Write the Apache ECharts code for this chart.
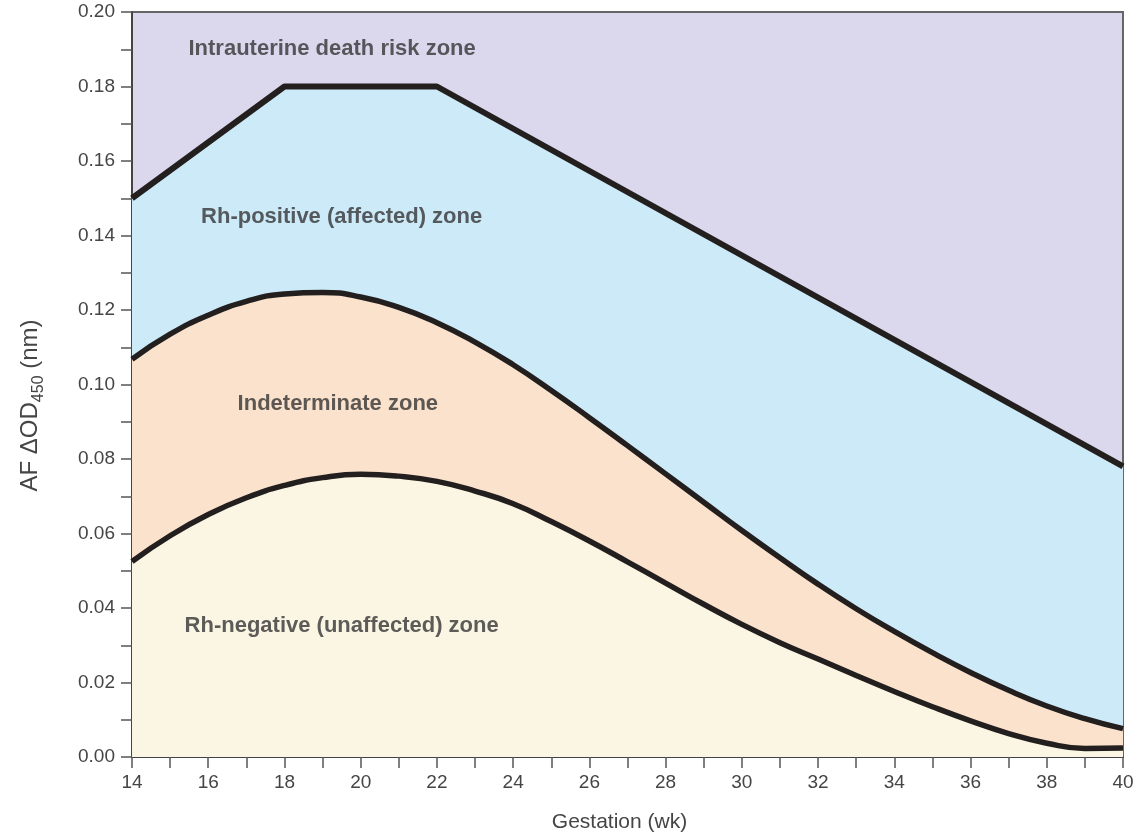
<!DOCTYPE html>
<html>
<head>
<meta charset="utf-8">
<script src="https://cdn.jsdelivr.net/npm/echarts@6/dist/echarts.min.js"></script>
<style>
html,body{margin:0;padding:0;background:#fff;}
#chart{width:1138px;height:838px;}
</style>
</head>
<body>
<div id="chart"></div>
<script>
// Gestation weeks
const weeks = [14,15,16,17,18,19,20,21,22,23,24,25,26,27,28,29,30,31,32,33,34,35,36,37,38,39,40];
// Upper boundary of Rh-positive (affected) zone: straight segments
const deathRiskBoundary = [[14,0.150],[18,0.180],[22,0.180],[40,0.078]];
// Boundary between affected and indeterminate zones
const upperCurve = [0.1068,0.1135,0.1186,0.1223,0.1243,0.1247,0.1235,0.1207,0.1166,0.1114,0.1053,0.0984,0.0911,0.0836,0.0760,0.0684,0.0608,0.0535,0.0464,0.0398,0.0337,0.0280,0.0227,0.0179,0.0137,0.0103,0.0076];
// Boundary between indeterminate and unaffected zones
const lowerCurve = [0.0525,0.0594,0.0651,0.0696,0.0729,0.0750,0.0759,0.0754,0.0740,0.0714,0.0680,0.0632,0.0580,0.0524,0.0467,0.0410,0.0356,0.0307,0.0263,0.0219,0.0176,0.0135,0.0097,0.0063,0.0037,0.0023,0.0024];
// Zone labels (text, anchor week, anchor value)
const zoneNames = ['Intrauterine death risk zone','Rh-positive (affected) zone','Indeterminate zone','Rh-negative (unaffected) zone'];
const zoneWeek = [19.25, 19.5, 19.4, 19.5];
const zoneValue = [0.190, 0.145, 0.0948, 0.0352];

const xTicks = {min:14, max:40, step:1, labelEvery:2};
const yTicks = {min:0, max:0.2, step:0.01, labelEvery:0.02};

const lineColor = '#231f1e';
const textColor = '#454545';
const font = "'Liberation Sans', Arial, Helvetica, sans-serif";

const chart = echarts.init(document.getElementById('chart'), null, {renderer:'canvas'});
const zip = arr => weeks.map((w,i)=>[w,arr[i]]);

chart.setOption({
  animation:false,
  backgroundColor:'#ffffff',
  grid:{left:132, right:15, top:12, bottom:77, show:true, backgroundColor:'#dbd8ee', borderColor:'#666', borderWidth:2},
  xAxis:{
    type:'value', min:xTicks.min, max:xTicks.max, interval:xTicks.step,
    name:'Gestation (wk)', nameLocation:'middle', nameGap:55,
    nameTextStyle:{fontSize:21, color:textColor, fontFamily:font, padding:[0,16,0,0]},
    axisLine:{show:true, lineStyle:{color:'#444', width:2}},
    axisTick:{show:true, length:11, lineStyle:{color:'#555', width:1.5}},
    axisLabel:{fontSize:19, color:textColor, fontFamily:font, margin:16,
      formatter:v=> (Math.round(v)%xTicks.labelEvery===0)? String(v):''},
    splitLine:{show:false}
  },
  yAxis:{
    type:'value', min:yTicks.min, max:yTicks.max, interval:yTicks.step,
    name:'AF ΔOD{s|450} (nm)', nameLocation:'middle', nameGap:90,
    nameTextStyle:{fontSize:24, color:textColor, fontFamily:font, padding:[0,42,0,0],
      rich:{s:{fontSize:16, color:textColor, fontFamily:font, verticalAlign:'bottom', padding:[0,0,-5,0]}}},
    axisLine:{show:true, lineStyle:{color:'#444', width:2}},
    axisTick:{show:true, length:11, lineStyle:{color:'#555', width:1.5}},
    axisLabel:{fontSize:19, color:textColor, fontFamily:font, margin:17,
      formatter:v=> (Math.round(v*100)%Math.round(yTicks.labelEvery*100)===0)? v.toFixed(2):''},
    splitLine:{show:false}
  },
  series:[
    {type:'line', data:deathRiskBoundary, symbol:'none', z:2,
      lineStyle:{color:lineColor, width:6, join:'round'}, areaStyle:{color:'#cdeaf8', opacity:1, origin:'start'}},
    {type:'line', data:zip(upperCurve), symbol:'none', smooth:0.5, z:3,
      lineStyle:{color:lineColor, width:5.5}, areaStyle:{color:'#fae2cd', opacity:1, origin:'start'}},
    {type:'line', data:zip(lowerCurve), symbol:'none', smooth:0.5, z:4,
      lineStyle:{color:lineColor, width:5.5}, areaStyle:{color:'#fbf6e3', opacity:1, origin:'start'}},
    {type:'scatter', z:6, symbolSize:1, itemStyle:{color:'rgba(0,0,0,0)'},
      data:zoneNames.map((n,i)=>({value:[zoneWeek[i], zoneValue[i]], name:n})),
      label:{show:true, position:'inside', formatter:p=>p.name, fontSize:22, fontWeight:'bold', color:'#353535', fontFamily:font}}
  ]
});
</script>
</body>
</html>
